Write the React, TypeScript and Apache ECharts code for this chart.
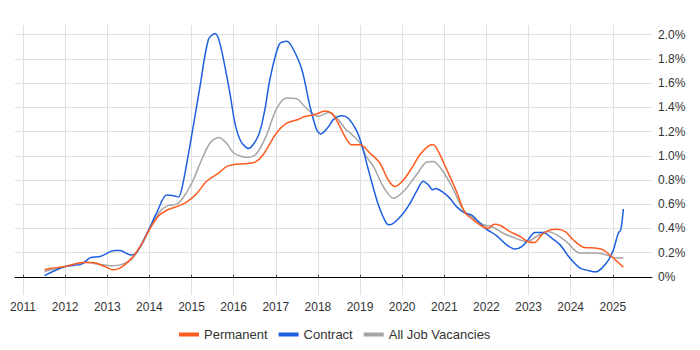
import React, { useEffect, useRef } from "react";
import * as echarts from "echarts";

// Decimal years and percentage values
const contractYears = [2011.51, 2012.0, 2012.39, 2012.59, 2012.83, 2013.18, 2013.3, 2013.56, 2013.7, 2013.97, 2014.17, 2014.41, 2014.57, 2014.69, 2014.79, 2015.0, 2015.2, 2015.4, 2015.56, 2015.68, 2015.91, 2016.03, 2016.17, 2016.35, 2016.59, 2016.74, 2016.86, 2017.08, 2017.26, 2017.4, 2017.62, 2017.81, 2017.97, 2018.07, 2018.25, 2018.37, 2018.56, 2018.72, 2018.92, 2019.04, 2019.24, 2019.43, 2019.63, 2019.71, 2019.99, 2020.19, 2020.34, 2020.5, 2020.62, 2020.72, 2020.8, 2020.94, 2021.13, 2021.29, 2021.49, 2021.65, 2021.81, 2022.0, 2022.24, 2022.48, 2022.68, 2022.84, 2022.99, 2023.15, 2023.35, 2023.55, 2023.75, 2023.98, 2024.22, 2024.42, 2024.6, 2024.74, 2024.9, 2025.01, 2025.13, 2025.19, 2025.25];
const contractValues = [0.01, 0.085, 0.105, 0.157, 0.168, 0.217, 0.217, 0.18, 0.204, 0.38, 0.526, 0.675, 0.67, 0.66, 0.76, 1.16, 1.57, 1.96, 2.01, 1.92, 1.52, 1.27, 1.12, 1.06, 1.17, 1.38, 1.63, 1.92, 1.945, 1.89, 1.71, 1.41, 1.215, 1.18, 1.24, 1.3, 1.33, 1.31, 1.205, 1.09, 0.83, 0.6, 0.44, 0.43, 0.51, 0.61, 0.705, 0.79, 0.76, 0.72, 0.73, 0.705, 0.65, 0.58, 0.526, 0.51, 0.457, 0.394, 0.34, 0.264, 0.229, 0.25, 0.306, 0.366, 0.366, 0.32, 0.264, 0.155, 0.072, 0.052, 0.041, 0.072, 0.14, 0.22, 0.36, 0.39, 0.56];

const permanentYears = [2011.51, 2011.64, 2012.0, 2012.43, 2012.67, 2012.9, 2013.14, 2013.3, 2013.54, 2013.78, 2014.0, 2014.21, 2014.41, 2014.65, 2014.89, 2015.12, 2015.36, 2015.64, 2015.83, 2015.99, 2016.23, 2016.51, 2016.7, 2017.02, 2017.26, 2017.53, 2017.69, 2017.93, 2018.17, 2018.33, 2018.48, 2018.64, 2018.8, 2018.92, 2019.0, 2019.24, 2019.47, 2019.67, 2019.83, 2020.03, 2020.23, 2020.42, 2020.62, 2020.74, 2020.86, 2021.06, 2021.29, 2021.49, 2021.69, 2021.89, 2022.05, 2022.18, 2022.33, 2022.56, 2022.8, 2022.99, 2023.14, 2023.31, 2023.51, 2023.67, 2023.87, 2024.06, 2024.3, 2024.62, 2024.77, 2024.97, 2025.13, 2025.25];
const permanentValues = [0.058, 0.069, 0.085, 0.118, 0.118, 0.091, 0.058, 0.072, 0.14, 0.25, 0.39, 0.5, 0.55, 0.58, 0.62, 0.686, 0.79, 0.857, 0.91, 0.926, 0.934, 0.948, 1.008, 1.19, 1.27, 1.3, 1.325, 1.34, 1.37, 1.35, 1.27, 1.16, 1.09, 1.09, 1.09, 1.02, 0.94, 0.8, 0.746, 0.8, 0.9, 1.008, 1.08, 1.09, 1.035, 0.884, 0.705, 0.53, 0.47, 0.42, 0.4, 0.435, 0.424, 0.374, 0.333, 0.29, 0.283, 0.347, 0.388, 0.394, 0.374, 0.306, 0.245, 0.237, 0.223, 0.168, 0.118, 0.08];

const allYears = [2011.51, 2012.0, 2012.51, 2012.75, 2013.14, 2013.38, 2013.58, 2013.82, 2014.0, 2014.25, 2014.45, 2014.65, 2014.85, 2015.04, 2015.24, 2015.44, 2015.64, 2015.83, 2015.99, 2016.19, 2016.35, 2016.55, 2016.78, 2017.02, 2017.26, 2017.5, 2017.73, 2018.01, 2018.25, 2018.44, 2018.68, 2018.76, 2019.0, 2019.15, 2019.32, 2019.55, 2019.79, 2020.03, 2020.34, 2020.58, 2020.74, 2020.94, 2021.18, 2021.45, 2021.69, 2021.93, 2022.16, 2022.4, 2022.68, 2022.96, 2023.19, 2023.43, 2023.67, 2023.9, 2024.22, 2024.62, 2024.85, 2025.09, 2025.25];
const allValues = [0.044, 0.085, 0.121, 0.107, 0.091, 0.107, 0.146, 0.264, 0.39, 0.54, 0.59, 0.6, 0.678, 0.8, 0.967, 1.105, 1.15, 1.105, 1.027, 0.994, 0.986, 1.02, 1.17, 1.39, 1.477, 1.47, 1.39, 1.325, 1.358, 1.315, 1.21, 1.19, 1.105, 0.994, 0.91, 0.746, 0.65, 0.705, 0.843, 0.948, 0.953, 0.884, 0.746, 0.554, 0.485, 0.43, 0.41, 0.36, 0.32, 0.29, 0.333, 0.374, 0.347, 0.29, 0.196, 0.196, 0.18, 0.155, 0.155];

const yearTicks = [2011, 2012, 2013, 2014, 2015, 2016, 2017, 2018, 2019, 2020, 2021, 2022, 2023, 2024, 2025];
const percentTicks = [0, 0.2, 0.4, 0.6, 0.8, 1.0, 1.2, 1.4, 1.6, 1.8, 2.0];

const seriesNames = ["Permanent", "Contract", "All Job Vacancies"];
const seriesColors = ["#ff5a1f", "#1d5fe0", "#a5a5a5"];

const zip = (xs: number[], ys: number[]) => xs.map((x, i) => [x, ys[i]]);

export default function App() {
  const ref = useRef<HTMLDivElement>(null);
  useEffect(() => {
    if (!ref.current) return;
    const chart = echarts.init(ref.current, null, { renderer: "svg" });
    const font = "'Liberation Sans', Arial, sans-serif";
    const datasets = [
      zip(permanentYears, permanentValues),
      zip(contractYears, contractValues),
      zip(allYears, allValues),
    ];
    // draw order: All behind, then Contract, then Permanent on top
    const order = [2, 1, 0];
    chart.setOption({
      animation: false,
      textStyle: { fontFamily: font },
      grid: { left: 15, right: 48, top: 25, bottom: 55, containLabel: false },
      xAxis: {
        type: "value",
        min: 2010.81,
        max: 2025.93,
        axisLine: { show: true, lineStyle: { color: "#000", width: 1 } },
        axisTick: { show: true, inside: true, length: 2, customValues: yearTicks, lineStyle: { color: "#333" } },
        axisLabel: {
          customValues: yearTicks,
          color: "#333",
          fontSize: 12,
          fontFamily: font,
          margin: 6,
          formatter: (v: number) => String(Math.round(v)),
        },
        splitLine: { show: true, lineStyle: { color: "#e0e0e0", width: 1 } },
      },
      yAxis: {
        type: "value",
        position: "right",
        min: -0.15,
        max: 2.08,
        axisLine: { show: false },
        axisTick: { show: false, customValues: percentTicks },
        axisLabel: {
          customValues: percentTicks,
          color: "#333",
          fontSize: 12,
          fontFamily: font,
          margin: 6,
          formatter: (v: number) => (Math.abs(v) < 1e-9 ? "0%" : v.toFixed(1) + "%"),
        },
        splitLine: { show: true, lineStyle: { color: "#e0e0e0", width: 1 } },
      },
      legend: {
        data: seriesNames,
        left: 174,
        top: 323,
        icon: "rect",
        itemWidth: 20,
        itemHeight: 4,
        itemGap: 11,
        textStyle: { fontSize: 13, color: "#333", fontFamily: font },
      },
      series: order.map((i) => ({
        name: seriesNames[i],
        type: "line",
        data: datasets[i],
        smooth: 0.3,
        showSymbol: false,
        symbol: "none",
        clip: false,
        color: seriesColors[i],
        lineStyle: { color: seriesColors[i], width: 1.5 },
        z: 10 - i,
      })),
    });
    return () => chart.dispose();
  }, []);
  return (
    <div
      ref={ref}
      style={{ position: "absolute", left: 0, top: 0, width: 700, height: 350, background: "#fff" }}
    />
  );
}
